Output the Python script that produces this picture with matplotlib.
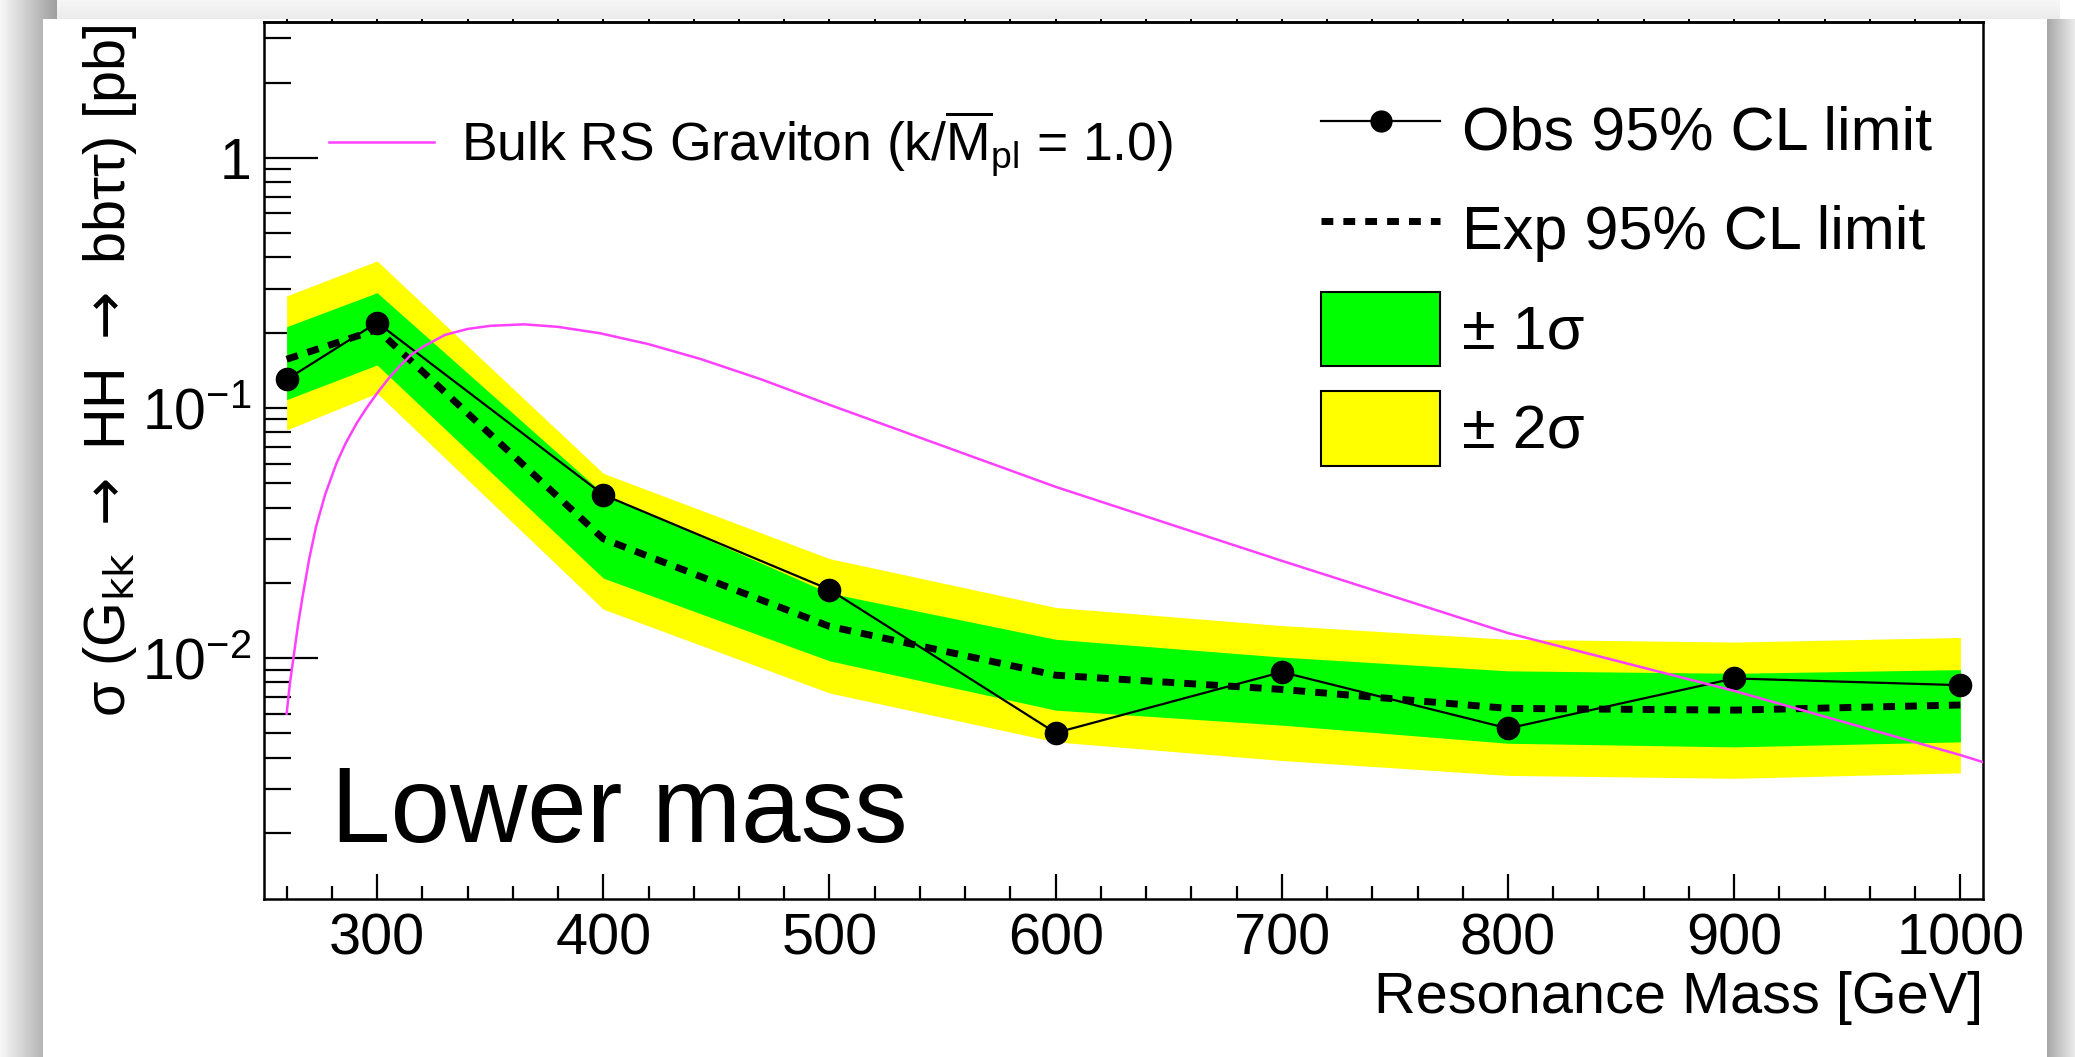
import numpy as np
import matplotlib
matplotlib.use("Agg")
import matplotlib.pyplot as plt
from matplotlib.lines import Line2D
from matplotlib.patches import Patch
from matplotlib.ticker import FixedLocator, MultipleLocator, LogLocator, NullFormatter, FixedFormatter

plt.rcParams['font.family'] = ['Liberation Sans', 'DejaVu Sans']
plt.rcParams['mathtext.fontset'] = 'custom'
plt.rcParams['mathtext.rm'] = 'Liberation Sans'
plt.rcParams['mathtext.it'] = 'Liberation Sans:italic'
plt.rcParams['mathtext.bf'] = 'Liberation Sans:bold'
plt.rcParams['mathtext.sf'] = 'Liberation Sans'

# ---------------- data ----------------
mass = [260, 300, 400, 500, 600, 700, 800, 900, 1000]
obs = [0.130, 0.2195, 0.045, 0.0188, 0.00503, 0.0088, 0.00524, 0.0083, 0.0078]
exp_lim = [0.1566, 0.206, 0.0300, 0.0134, 0.00855, 0.0075, 0.0063, 0.0062, 0.0065]
one_sigma_up = [0.2113, 0.289, 0.0455, 0.0182, 0.0119, 0.0101, 0.0089, 0.0087, 0.0090]
one_sigma_dn = [0.108, 0.1486, 0.0209, 0.00976, 0.0062, 0.0054, 0.00457, 0.00442, 0.00463]
two_sigma_up = [0.2805, 0.387, 0.0548, 0.0250, 0.01595, 0.0135, 0.0119, 0.0116, 0.0121]
two_sigma_dn = [0.0817, 0.1146, 0.0157, 0.00726, 0.00463, 0.0039, 0.0034, 0.00331, 0.00348]

theory_mass = [260, 261.5, 263, 265, 267, 270, 273, 277, 282, 286, 291, 295, 300, 305,
               310, 315, 320, 330, 340, 350, 365, 380, 398.5, 420, 443, 470, 500,
               600, 700, 800, 900, 1000, 1100]
theory_xs = [0.0060, 0.0080, 0.0100, 0.0135, 0.0175, 0.0250, 0.0335, 0.045, 0.060, 0.072,
             0.087, 0.099, 0.1145, 0.131, 0.147, 0.163, 0.175, 0.196, 0.207, 0.213,
             0.216, 0.211, 0.199, 0.180, 0.157, 0.130, 0.103,
             0.0484, 0.0245, 0.0126, 0.0074, 0.0041, 0.00215]

x_major = [300, 400, 500, 600, 700, 800, 900, 1000]
y_major = [0.01, 0.1, 1]
y_major_labels = [r'$10^{-2}$', r'$10^{-1}$', '1']

theory_label = r'Bulk RS Graviton (k/$\overline{\mathrm{M}}_{\mathrm{pl}}$ = 1.0)'
legend_labels = ['Obs 95% CL limit', 'Exp 95% CL limit', '\u00b1 1\u03c3', '\u00b1 2\u03c3']
xlabel = 'Resonance Mass [GeV]'
ylabel = ('\u03c3 (G$_{\\mathrm{kk}}$ $\\rightarrow$ HH $\\rightarrow$ '
          'bb\u03c4\u03c4) [pb]')
tag = 'Lower mass'

# ---------------- colours / styles ----------------
YELLOW = '#ffff00'
GREEN = '#00ff00'
PINK = '#ff40ff'
EXP_LS = (0, (1.7, 1.45))

W, H = 2075, 1057
fig = plt.figure(figsize=(W / 100, H / 100), dpi=100)

# ---------------- screenshot background (page + shadows) ----------------
bg = fig.add_axes([0, 0, 1, 1], zorder=-10)
xx = np.arange(W)[None, :] * np.ones((H, 1))
yy = np.arange(H)[:, None] * np.ones((1, W))
img = np.ones((H, W))
top = yy < 19
band = top & (xx >= 57) & (xx < 2060)
img[band] = (0.965 - 0.045 * yy / 19.0)[band]
lmask = ((xx < 43) & ~top) | ((xx < 57) & top)
img[lmask] = (0.97 - 0.34 * xx / 55.0)[lmask]
rmask = (xx >= 2047) & ~top
img[rmask] = (0.66 + 0.27 * (xx - 2047) / 28.0)[rmask]
bg.imshow(np.dstack([img] * 3), extent=(0, W, H, 0), aspect='auto', interpolation='bilinear')
bg.set_xlim(0, W)
bg.set_ylim(H, 0)
bg.axis('off')

# ---------------- main axes ----------------
L, R, T, B = 264, 1983, 21.7, 899
ax = fig.add_axes([L / W, 1 - B / H, (R - L) / W, (B - T) / H])
ax.set_yscale('log')
ax.set_xlim(250, 1010)
ax.set_ylim(1.09e-3, 3.5)
ax.set_axisbelow(True)

ax.fill_between(mass, two_sigma_dn, two_sigma_up, color=YELLOW, lw=0, zorder=1)
ax.fill_between(mass, one_sigma_dn, one_sigma_up, color=GREEN, lw=0, zorder=1.1)
ax.plot(mass, exp_lim, color='k', lw=5, ls=EXP_LS, zorder=3)
ax.plot(mass, obs, color='k', lw=1.6, marker='o', ms=16, zorder=4)
ax.plot(theory_mass, theory_xs, color=PINK, lw=1.8, zorder=5)

for s in ax.spines.values():
    s.set_linewidth(1.8)

ax.xaxis.set_major_locator(FixedLocator(x_major))
ax.xaxis.set_minor_locator(MultipleLocator(20))
ax.yaxis.set_major_locator(FixedLocator(y_major))
ax.yaxis.set_major_formatter(FixedFormatter(y_major_labels))
ax.yaxis.set_minor_locator(LogLocator(base=10, subs=np.arange(2, 10)))
ax.yaxis.set_minor_formatter(NullFormatter())

ax.tick_params(axis='x', which='major', direction='in', length=18, width=1.6,
               labelsize=41.5, pad=10, top=False)
ax.tick_params(axis='x', which='minor', direction='in', length=9.4, width=1.6, top=False)
ax.tick_params(axis='y', which='major', direction='in', length=39, width=1.6,
               labelsize=41, pad=9, right=False)
ax.tick_params(axis='y', which='minor', direction='in', length=19.4, width=1.6, right=False)

# small tick stubs above the top frame
secx = ax.secondary_xaxis('top')
secx.xaxis.set_major_locator(FixedLocator(x_major))
secx.xaxis.set_minor_locator(MultipleLocator(20))
secx.tick_params(which='both', direction='out', length=2.2, width=1.4, labeltop=False)
secx.spines['top'].set_linewidth(1.8)

ax.set_xlabel(xlabel, fontsize=41.5, loc='right')
ax.xaxis.label.set_va('baseline')
ax.xaxis.set_label_coords(1.0, (B - 1013) / (B - T))

ax.set_ylabel(ylabel, fontsize=41.5, loc='top')
ax.yaxis.label.set_math_fontfamily('dejavusans')
ax.yaxis.label.set_va('baseline')
ax.yaxis.set_label_coords((125 - L) / (R - L), 0.996)

ax.text((331 - L) / (R - L), (B - 842) / (B - T), tag, transform=ax.transAxes,
        fontsize=77, ha='left', va='baseline', zorder=6)

# ---------------- legends ----------------
h_th = Line2D([], [], color=PINK, lw=1.8)
leg1 = ax.legend([h_th], [theory_label], loc='center left',
                 bbox_to_anchor=(329 / W, 1 - 144 / H), bbox_transform=fig.transFigure,
                 frameon=False, fontsize=38.5, handlelength=1.96, handletextpad=0.5,
                 borderpad=0, borderaxespad=0)
ax.add_artist(leg1)

handles = [Line2D([], [], color='k', lw=1.6, marker='o', ms=15),
           Line2D([], [], color='k', lw=5, ls=EXP_LS),
           Patch(facecolor=GREEN, edgecolor='k', lw=1.5),
           Patch(facecolor=YELLOW, edgecolor='k', lw=1.5)]
leg2 = ax.legend(handles, legend_labels, loc='center left',
                 bbox_to_anchor=(1321 / W, 1 - 279 / H), bbox_transform=fig.transFigure,
                 frameon=False, fontsize=44, handlelength=1.95, handleheight=1.5,
                 handletextpad=0.36, labelspacing=0.41, borderpad=0, borderaxespad=0)

fig.savefig('out.png', dpi=100)
